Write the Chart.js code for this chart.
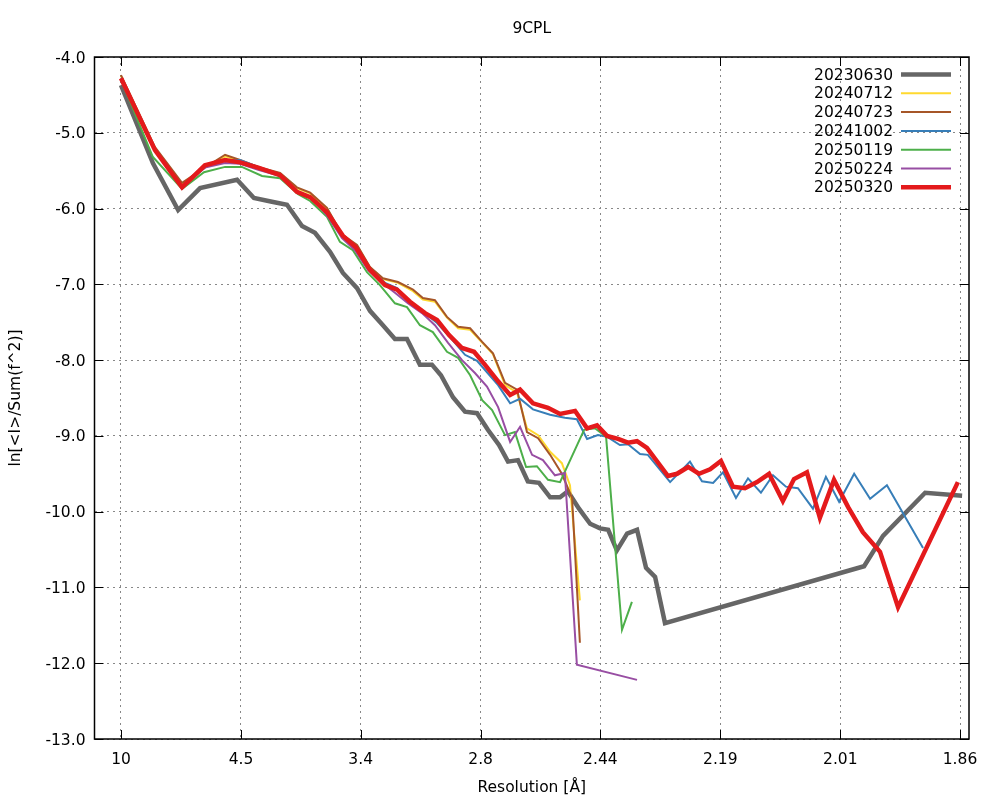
<!DOCTYPE html>
<html>
<head>
<meta charset="utf-8">
<script src="https://cdn.jsdelivr.net/npm/chart.js@4"></script>
<style>
  html, body { margin: 0; padding: 0; background: #fff; }
</style>
</head>
<body>
<canvas id="wilson" width="1000" height="800"></canvas>
<script>
// Wilson plot data: [1/d^2 (A^-2), ln(<I>/Sum(f^2))]
const run20230630 = [
  [0.0100, -4.37], [0.0206, -5.40], [0.0290, -6.02], [0.0363, -5.73], [0.0486, -5.62],
  [0.0542, -5.86], [0.0602, -5.91], [0.0652, -5.95], [0.0702, -6.23], [0.0745, -6.32],
  [0.0795, -6.57], [0.0838, -6.85], [0.0885, -7.05], [0.0928, -7.35], [0.0971, -7.54],
  [0.1011, -7.72], [0.1051, -7.72], [0.1094, -8.06], [0.1134, -8.06], [0.1164, -8.20],
  [0.1204, -8.49], [0.1244, -8.68], [0.1284, -8.70], [0.1320, -8.92], [0.1357, -9.12],
  [0.1387, -9.34], [0.1420, -9.32], [0.1453, -9.60], [0.1490, -9.62], [0.1527, -9.81],
  [0.1560, -9.81], [0.1586, -9.73], [0.1623, -9.96], [0.1660, -10.16], [0.1693, -10.22],
  [0.1720, -10.24], [0.1749, -10.51], [0.1783, -10.29], [0.1816, -10.24], [0.1846, -10.74],
  [0.1876, -10.86], [0.1909, -11.47], [0.2571, -10.72], [0.2634, -10.32], [0.2774, -9.75],
  [0.2897, -9.79]
];
const run20240712 = [
  [0.0100, -4.25], [0.0213, -5.21], [0.0303, -5.68], [0.0379, -5.45], [0.0446, -5.31],
  [0.0496, -5.37], [0.0556, -5.46], [0.0629, -5.54], [0.0685, -5.73], [0.0729, -5.80],
  [0.0785, -6.00], [0.0835, -6.36], [0.0885, -6.49], [0.0928, -6.78], [0.0971, -6.93],
  [0.1021, -6.98], [0.1071, -7.09], [0.1104, -7.20], [0.1144, -7.23], [0.1184, -7.44],
  [0.1221, -7.58], [0.1261, -7.60], [0.1301, -7.77], [0.1337, -7.92], [0.1377, -8.33],
  [0.1417, -8.43], [0.1450, -8.90], [0.1487, -8.99], [0.1527, -9.21], [0.1566, -9.36],
  [0.1593, -9.65], [0.1626, -11.17]
];
const run20240723 = [
  [0.0100, -4.24], [0.0213, -5.19], [0.0303, -5.66], [0.0379, -5.46], [0.0446, -5.29],
  [0.0496, -5.36], [0.0556, -5.45], [0.0629, -5.53], [0.0685, -5.72], [0.0729, -5.79],
  [0.0785, -5.99], [0.0835, -6.34], [0.0885, -6.48], [0.0928, -6.77], [0.0971, -6.92],
  [0.1021, -6.97], [0.1071, -7.07], [0.1104, -7.18], [0.1144, -7.21], [0.1184, -7.43],
  [0.1221, -7.56], [0.1261, -7.58], [0.1301, -7.76], [0.1337, -7.91], [0.1377, -8.30],
  [0.1417, -8.39], [0.1450, -8.95], [0.1487, -9.03], [0.1527, -9.25], [0.1566, -9.50],
  [0.1600, -9.82], [0.1626, -11.73]
];
const run20241002 = [
  [0.0100, -4.28], [0.0213, -5.23], [0.0303, -5.72], [0.0379, -5.45], [0.0446, -5.37],
  [0.0496, -5.36], [0.0556, -5.45], [0.0629, -5.57], [0.0685, -5.78], [0.0729, -5.85],
  [0.0785, -6.06], [0.0838, -6.38], [0.0881, -6.52], [0.0928, -6.81], [0.0978, -6.98],
  [0.1018, -7.05], [0.1061, -7.25], [0.1111, -7.38], [0.1151, -7.51], [0.1201, -7.73],
  [0.1244, -7.93], [0.1284, -8.01], [0.1317, -8.16], [0.1354, -8.33], [0.1394, -8.57],
  [0.1427, -8.51], [0.1470, -8.65], [0.1527, -8.72], [0.1576, -8.76], [0.1616, -8.78],
  [0.1650, -9.04], [0.1686, -8.99], [0.1716, -9.01], [0.1759, -9.12], [0.1786, -9.11],
  [0.1826, -9.24], [0.1852, -9.25], [0.1926, -9.61], [0.1992, -9.34], [0.2032, -9.60],
  [0.2069, -9.62], [0.2102, -9.48], [0.2145, -9.82], [0.2185, -9.56], [0.2228, -9.75],
  [0.2268, -9.52], [0.2311, -9.67], [0.2351, -9.69], [0.2401, -9.96], [0.2444, -9.54],
  [0.2488, -9.87], [0.2538, -9.50], [0.2591, -9.83], [0.2647, -9.65], [0.2767, -10.48]
];
const run20250119 = [
  [0.0100, -4.30], [0.0206, -5.32], [0.0303, -5.74], [0.0376, -5.52], [0.0446, -5.45],
  [0.0502, -5.45], [0.0569, -5.57], [0.0629, -5.60], [0.0689, -5.81], [0.0729, -5.90],
  [0.0785, -6.11], [0.0828, -6.44], [0.0871, -6.55], [0.0918, -6.84], [0.0961, -7.01],
  [0.1011, -7.25], [0.1051, -7.30], [0.1094, -7.54], [0.1137, -7.63], [0.1184, -7.89],
  [0.1221, -7.97], [0.1261, -8.20], [0.1301, -8.53], [0.1334, -8.66], [0.1377, -8.99],
  [0.1410, -8.95], [0.1447, -9.41], [0.1483, -9.40], [0.1520, -9.58], [0.1560, -9.61],
  [0.1640, -8.92], [0.1676, -8.90], [0.1713, -9.01], [0.1766, -11.56], [0.1799, -11.19]
];
const run20250224 = [
  [0.0100, -4.28], [0.0213, -5.23], [0.0303, -5.72], [0.0379, -5.46], [0.0446, -5.40],
  [0.0496, -5.41], [0.0556, -5.49], [0.0629, -5.57], [0.0685, -5.79], [0.0735, -5.86],
  [0.0785, -6.09], [0.0835, -6.39], [0.0878, -6.55], [0.0921, -6.81], [0.0968, -6.98],
  [0.1011, -7.11], [0.1054, -7.25], [0.1101, -7.38], [0.1144, -7.54], [0.1187, -7.77],
  [0.1234, -8.00], [0.1277, -8.17], [0.1317, -8.35], [0.1354, -8.62], [0.1394, -9.08],
  [0.1427, -8.88], [0.1467, -9.25], [0.1503, -9.32], [0.1543, -9.52], [0.1576, -9.49],
  [0.1616, -12.02], [0.1816, -12.22]
];
const run20250320 = [
  [0.0100, -4.28], [0.0213, -5.23], [0.0303, -5.72], [0.0379, -5.43], [0.0446, -5.36],
  [0.0496, -5.39], [0.0556, -5.46], [0.0629, -5.56], [0.0685, -5.78], [0.0729, -5.85],
  [0.0785, -6.05], [0.0838, -6.36], [0.0881, -6.51], [0.0928, -6.81], [0.0978, -7.01],
  [0.1018, -7.07], [0.1061, -7.23], [0.1111, -7.38], [0.1151, -7.47], [0.1191, -7.67],
  [0.1234, -7.84], [0.1274, -7.89], [0.1310, -8.06], [0.1354, -8.28], [0.1394, -8.46],
  [0.1427, -8.39], [0.1470, -8.57], [0.1520, -8.63], [0.1560, -8.71], [0.1610, -8.67],
  [0.1650, -8.90], [0.1683, -8.86], [0.1716, -9.00], [0.1753, -9.04], [0.1786, -9.09],
  [0.1816, -9.07], [0.1849, -9.16], [0.1919, -9.53], [0.1949, -9.50], [0.1986, -9.41],
  [0.2022, -9.50], [0.2059, -9.44], [0.2095, -9.33], [0.2135, -9.67], [0.2175, -9.69],
  [0.2215, -9.61], [0.2255, -9.50], [0.2301, -9.86], [0.2338, -9.57], [0.2381, -9.48],
  [0.2424, -10.08], [0.2471, -9.58], [0.2518, -9.94], [0.2567, -10.27], [0.2624, -10.53],
  [0.2684, -11.26], [0.2883, -9.61]
];

const runLabels = ['20230630', '20240712', '20240723', '20241002', '20250119', '20250224', '20250320'];
const runData = [run20230630, run20240712, run20240723, run20241002, run20250119, run20250224, run20250320];
const runColors = ['#666666', '#ffd92f', '#a65628', '#377eb8', '#4daf4a', '#984ea3', '#e41a1c'];
const runWidths = [4.5, 2, 2, 2, 2, 2, 4.5];

// x ticks (1/d^2) and their resolution labels
const tickPos = [0.0100, 0.0499, 0.0897, 0.1296, 0.1694, 0.2093, 0.2492, 0.2890];
const tickLabels = ['10', '4.5', '3.4', '2.8', '2.44', '2.19', '2.01', '1.86'];

const FONT = '15.5px "DejaVu Sans"';

// gnuplot-like frame: border, inward ticks, titles, key
const gnuplotFrame = {
  id: 'gnuplotFrame',
  afterDraw(chart) {
    const { ctx, chartArea: a, scales: { x, y } } = chart;
    ctx.save();
    ctx.strokeStyle = '#000';
    ctx.lineWidth = 1;
    ctx.beginPath();
    y.ticks.forEach(t => {
      const py = Math.round(y.getPixelForValue(t.value)) + 0.5;
      ctx.moveTo(a.left, py); ctx.lineTo(a.left + 9, py);
      ctx.moveTo(a.right, py); ctx.lineTo(a.right - 9, py);
    });
    x.ticks.forEach(t => {
      const px = Math.round(x.getPixelForValue(t.value)) + 0.5;
      ctx.moveTo(px, a.bottom); ctx.lineTo(px, a.bottom - 9);
      ctx.moveTo(px, a.top); ctx.lineTo(px, a.top + 9);
    });
    ctx.stroke();
    ctx.lineWidth = 1.5;
    ctx.strokeRect(a.left, a.top, a.right - a.left, a.bottom - a.top);

    ctx.fillStyle = '#000';
    ctx.font = FONT;
    ctx.textAlign = 'center';
    ctx.textBaseline = 'middle';
    const cx = (a.left + a.right) / 2;
    ctx.fillText('9CPL', cx, 29);
    ctx.fillText('Resolution [Å]', cx, 788);
    ctx.save();
    ctx.translate(16, (a.top + a.bottom) / 2);
    ctx.rotate(-Math.PI / 2);
    ctx.fillText('ln[<I>/Sum(f^2)]', 0, 0);
    ctx.restore();

    // key
    ctx.textAlign = 'right';
    runLabels.forEach((lab, i) => {
      const ky = 74.5 + i * 18.8;
      ctx.fillStyle = '#000';
      ctx.fillText(lab, 893, ky + 1);
      ctx.strokeStyle = runColors[i];
      ctx.lineWidth = runWidths[i];
      ctx.beginPath();
      ctx.moveTo(901, ky); ctx.lineTo(951, ky);
      ctx.stroke();
    });
    ctx.restore();
  }
};

new Chart(document.getElementById('wilson'), {
  type: 'line',
  data: {
    datasets: runData.map((d, i) => ({
      label: runLabels[i],
      data: d.map(p => ({ x: p[0], y: p[1] })),
      borderColor: runColors[i],
      borderWidth: runWidths[i],
      pointRadius: 0,
      tension: 0,
      fill: false,
      order: runData.length - 1 - i
    }))
  },
  options: {
    responsive: false,
    animation: false,
    layout: { padding: { top: 57, right: 31, left: 0, bottom: 0 } },
    plugins: {
      legend: { display: false },
      tooltip: { enabled: false },
      title: { display: false }
    },
    scales: {
      x: {
        type: 'linear',
        min: 0.00119,
        max: 0.29199,
        afterFit: s => { s.height = 61; },
        afterBuildTicks: s => { s.ticks = tickPos.map(v => ({ value: v })); },
        grid: { color: '#888', lineWidth: 1, drawTicks: false },
        border: { display: false, dash: [2, 4] },
        ticks: {
          autoSkip: false,
          maxRotation: 0,
          padding: 12,
          color: '#000',
          font: { family: 'DejaVu Sans', size: 15.5 },
          callback: (v, i) => tickLabels[i]
        }
      },
      y: {
        min: -13,
        max: -4,
        afterFit: s => { s.width = 94.5; },
        grid: { color: '#888', lineWidth: 1, drawTicks: false },
        border: { display: false, dash: [2, 4] },
        ticks: {
          stepSize: 1,
          padding: 9,
          labelOffset: 1.5,
          color: '#000',
          font: { family: 'DejaVu Sans', size: 15.5 },
          callback: v => v.toFixed(1)
        }
      }
    }
  },
  plugins: [gnuplotFrame]
});
</script>
</body>
</html>
